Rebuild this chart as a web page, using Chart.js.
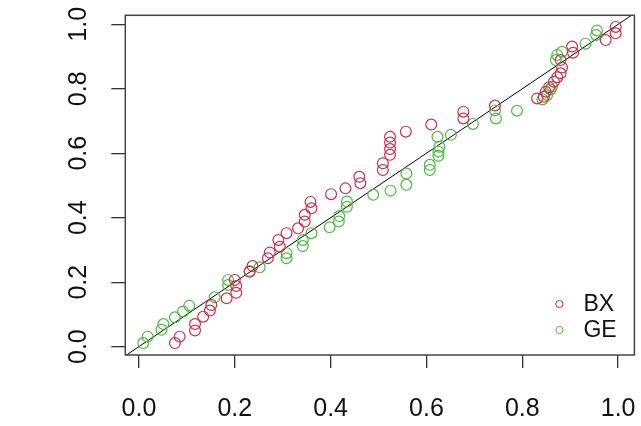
<!DOCTYPE html>
<html>
<head>
<meta charset="utf-8">
<script src="https://cdn.jsdelivr.net/npm/chart.js@4.4.1/dist/chart.umd.min.js"></script>
<style>
  html, body { margin: 0; padding: 0; background: #fff; }
  canvas { display: block; }
</style>
</head>
<body>
<canvas id="ppChart" width="641" height="426"></canvas>
<script>
// values
const tickValues = [0, 0.2, 0.4, 0.6, 0.8, 1.0];

const bxX = [0.075, 0.085, 0.117, 0.117, 0.134, 0.148, 0.151, 0.183, 0.203, 0.203, 0.200,
  0.231, 0.237, 0.269, 0.273, 0.294, 0.291, 0.308, 0.332, 0.346, 0.346, 0.360, 0.358,
  0.401, 0.431, 0.460, 0.462, 0.509, 0.509, 0.524, 0.524, 0.524, 0.524, 0.557, 0.610,
  0.677, 0.677, 0.743, 0.831, 0.845, 0.849, 0.856, 0.866, 0.873, 0.880, 0.883, 0.880,
  0.904, 0.906, 0.974, 0.995, 0.995];
const bxY = [0.011, 0.031, 0.050, 0.070, 0.093, 0.112, 0.129, 0.150, 0.167, 0.188, 0.207,
  0.232, 0.250, 0.274, 0.292, 0.310, 0.331, 0.352, 0.367, 0.388, 0.409, 0.429, 0.449,
  0.473, 0.491, 0.527, 0.507, 0.548, 0.569, 0.595, 0.613, 0.633, 0.651, 0.667, 0.689,
  0.708, 0.729, 0.748, 0.770, 0.775, 0.791, 0.805, 0.822, 0.836, 0.848, 0.866, 0.889,
  0.931, 0.912, 0.951, 0.972, 0.992];

const geX = [0.009, 0.018, 0.047, 0.051, 0.075, 0.092, 0.105, 0.158, 0.186, 0.186, 0.231,
  0.252, 0.308, 0.308, 0.342, 0.342, 0.360, 0.398, 0.417, 0.418, 0.434, 0.434, 0.489,
  0.525, 0.558, 0.558, 0.607, 0.607, 0.625, 0.625, 0.627, 0.623, 0.651, 0.697, 0.745,
  0.743, 0.789, 0.842, 0.852, 0.859, 0.862, 0.870, 0.873, 0.883, 0.932, 0.954, 0.956];
const geY = [0.011, 0.031, 0.052, 0.070, 0.091, 0.109, 0.127, 0.153, 0.191, 0.207, 0.235,
  0.246, 0.274, 0.290, 0.312, 0.331, 0.352, 0.370, 0.388, 0.405, 0.434, 0.450, 0.471,
  0.484, 0.502, 0.537, 0.548, 0.564, 0.592, 0.605, 0.620, 0.651, 0.657, 0.691, 0.708,
  0.733, 0.732, 0.767, 0.781, 0.798, 0.806, 0.889, 0.905, 0.915, 0.940, 0.967, 0.981];

const diagonal = [-0.1, 1.1];

const seriesNames = ['BX', 'GE'];
const seriesColors = ['#CC2F4D', '#48BC3E'];

const toPoints = (xs, ys) => xs.map((x, i) => ({ x: x, y: ys[i] }));

const fontFamily = '"Liberation Sans", Arial, sans-serif';

// fixed axis sizes so the plot box sits where it does in the original
function fixSize(prop, size) {
  return s => {
    s[prop] = size;
    s.paddingLeft = s.paddingRight = s.paddingTop = s.paddingBottom = 0;
  };
}

// full box around the plot region, like R's box()
const boxPlugin = {
  id: 'plotBox',
  afterDraw(chart) {
    const { ctx, chartArea: a } = chart;
    ctx.save();
    ctx.strokeStyle = '#444';
    ctx.lineWidth = 1.5;
    ctx.strokeRect(a.left, a.top, a.right - a.left, a.bottom - a.top);
    ctx.restore();
  }
};

// legend in the lower right corner of the plot
const cornerLegend = {
  id: 'cornerLegend',
  afterDraw(chart) {
    const { ctx, chartArea: a } = chart;
    const items = chart.data.datasets.filter(d => d.label);
    ctx.save();
    ctx.font = '23px ' + fontFamily;
    ctx.textBaseline = 'middle';
    ctx.textAlign = 'left';
    items.forEach((d, i) => {
      const y = a.bottom - 51 + i * 26;
      ctx.beginPath();
      ctx.arc(a.right - 75, y, 3.6, 0, Math.PI * 2);
      ctx.strokeStyle = d.borderColor;
      ctx.lineWidth = 1;
      ctx.stroke();
      ctx.fillStyle = '#111';
      ctx.fillText(d.label, a.right - 51, y + 1);
    });
    ctx.restore();
  }
};

const tickFont = { family: fontFamily, size: 25 };

new Chart(document.getElementById('ppChart'), {
  type: 'scatter',
  data: {
    datasets: [
      {
        label: seriesNames[0],
        data: toPoints(bxX, bxY),
        borderColor: seriesColors[0],
        backgroundColor: 'rgba(0,0,0,0)',
        borderWidth: 1.2,
        pointRadius: 5.4,
        pointHoverRadius: 5.4
      },
      {
        label: seriesNames[1],
        data: toPoints(geX, geY),
        borderColor: seriesColors[1],
        backgroundColor: 'rgba(0,0,0,0)',
        borderWidth: 1.2,
        pointRadius: 5.4,
        pointHoverRadius: 5.4
      },
      {
        label: '',
        data: toPoints(diagonal, diagonal),
        showLine: true,
        borderColor: '#000',
        borderWidth: 1,
        pointRadius: 0
      }
    ]
  },
  options: {
    responsive: false,
    animation: false,
    layout: { padding: { top: 15.3, right: 5.3, left: 0, bottom: 0 } },
    plugins: { legend: { display: false }, tooltip: { enabled: false } },
    scales: {
      x: {
        type: 'linear',
        min: -0.0285,
        max: 1.034,
        afterBuildTicks: s => { s.ticks = tickValues.map(v => ({ value: v })); },
        afterFit: fixSize('height', 71),
        grid: { drawOnChartArea: false, drawTicks: true, tickLength: 13, color: '#333', lineWidth: 1.3 },
        border: { display: false },
        ticks: { padding: 26, color: '#111', font: tickFont, maxRotation: 0, callback: v => v.toFixed(1) }
      },
      y: {
        type: 'linear',
        min: -0.026,
        max: 1.028,
        afterBuildTicks: s => { s.ticks = tickValues.map(v => ({ value: v })); },
        afterFit: fixSize('width', 125.3),
        grid: { drawOnChartArea: false, drawTicks: true, tickLength: 14, color: '#333', lineWidth: 1.3 },
        border: { display: false },
        ticks: { minRotation: 90, maxRotation: 90, crossAlign: 'center', padding: 15, color: '#111', font: tickFont, callback: v => v.toFixed(1) }
      }
    }
  },
  plugins: [boxPlugin, cornerLegend]
});
</script>
</body>
</html>
